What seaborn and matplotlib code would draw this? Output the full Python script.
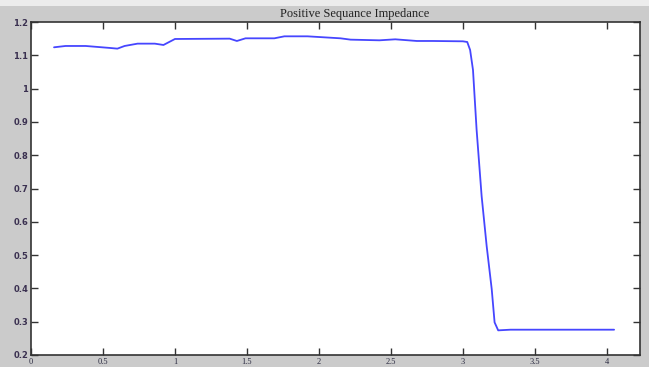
import matplotlib
matplotlib.use("Agg")
import matplotlib.pyplot as plt
import seaborn as sns
import pandas as pd
from matplotlib.patches import Rectangle

# Positive sequence impedance magnitude vs. time
time_s = [0.16, 0.24, 0.38, 0.55, 0.60, 0.65, 0.74, 0.86, 0.92, 1.00,
          1.38, 1.43, 1.49, 1.69, 1.76, 1.92, 2.15, 2.22, 2.42, 2.53,
          2.68, 2.79, 3.00, 3.03, 3.05, 3.07, 3.095, 3.13, 3.165, 3.20,
          3.22, 3.245, 3.33, 4.05]
impedance = [1.124, 1.128, 1.128, 1.122, 1.120, 1.128, 1.135, 1.135, 1.131, 1.149,
             1.150, 1.143, 1.151, 1.151, 1.157, 1.157, 1.151, 1.147, 1.145, 1.148,
             1.143, 1.143, 1.142, 1.140, 1.116, 1.056, 0.877, 0.677, 0.527, 0.398,
             0.298, 0.274, 0.276, 0.276]

x_ticks = [0, 0.5, 1, 1.5, 2, 2.5, 3, 3.5, 4]
x_labels = ["0", "0.5", "1", "1.5", "2", "2.5", "3", "3.5", "4"]
y_ticks = [0.2, 0.3, 0.4, 0.5, 0.6, 0.7, 0.8, 0.9, 1.0, 1.1, 1.2]
y_labels = ["0.2", "0.3", "0.4", "0.5", "0.6", "0.7", "0.8", "0.9", "1", "1.1", "1.2"]
title = "Positive Sequance Impedance"

sns.set_style("white")
df = pd.DataFrame({"t": time_s, "z": impedance})

fig = plt.figure(figsize=(6.49, 3.67), dpi=100, facecolor="#cbcbcb")
fig.patches.append(Rectangle((0, 1 - 6 / 367), 1, 6 / 367, transform=fig.transFigure,
                             facecolor="#ececec", edgecolor="none", zorder=0))
ax = fig.add_axes([31 / 649, 1 - 355 / 367, (640 - 31) / 649, (355 - 22) / 367])
ax.set_facecolor("white")

sns.lineplot(data=df, x="t", y="z", ax=ax, color="#4646ff", linewidth=1.3,
             estimator=None, sort=False)

ax.set_xlim(0, 4.23)
ax.set_ylim(0.2, 1.2)
ax.set_xticks(x_ticks)
ax.set_xticklabels(x_labels, fontsize=6, family="Liberation Serif", color="#2a2a40")
ax.set_yticks(y_ticks)
ax.set_yticklabels(y_labels, fontsize=6, fontweight="bold", color="#3a3050")
ax.set_xlabel("")
ax.set_ylabel("")
ax.tick_params(direction="in", length=5, width=1, color="#333333",
               top=True, right=True, bottom=True, left=True, pad=2)
for side in ax.spines.values():
    side.set_visible(True)
    side.set_color("#333333")
    side.set_linewidth(1.2)

fig.text(355 / 649, 1 - 14 / 367, title, fontsize=9, family="Liberation Serif",
         color="#222222", ha="center", va="center")

fig.savefig("out.png", dpi=100, facecolor=fig.get_facecolor())
